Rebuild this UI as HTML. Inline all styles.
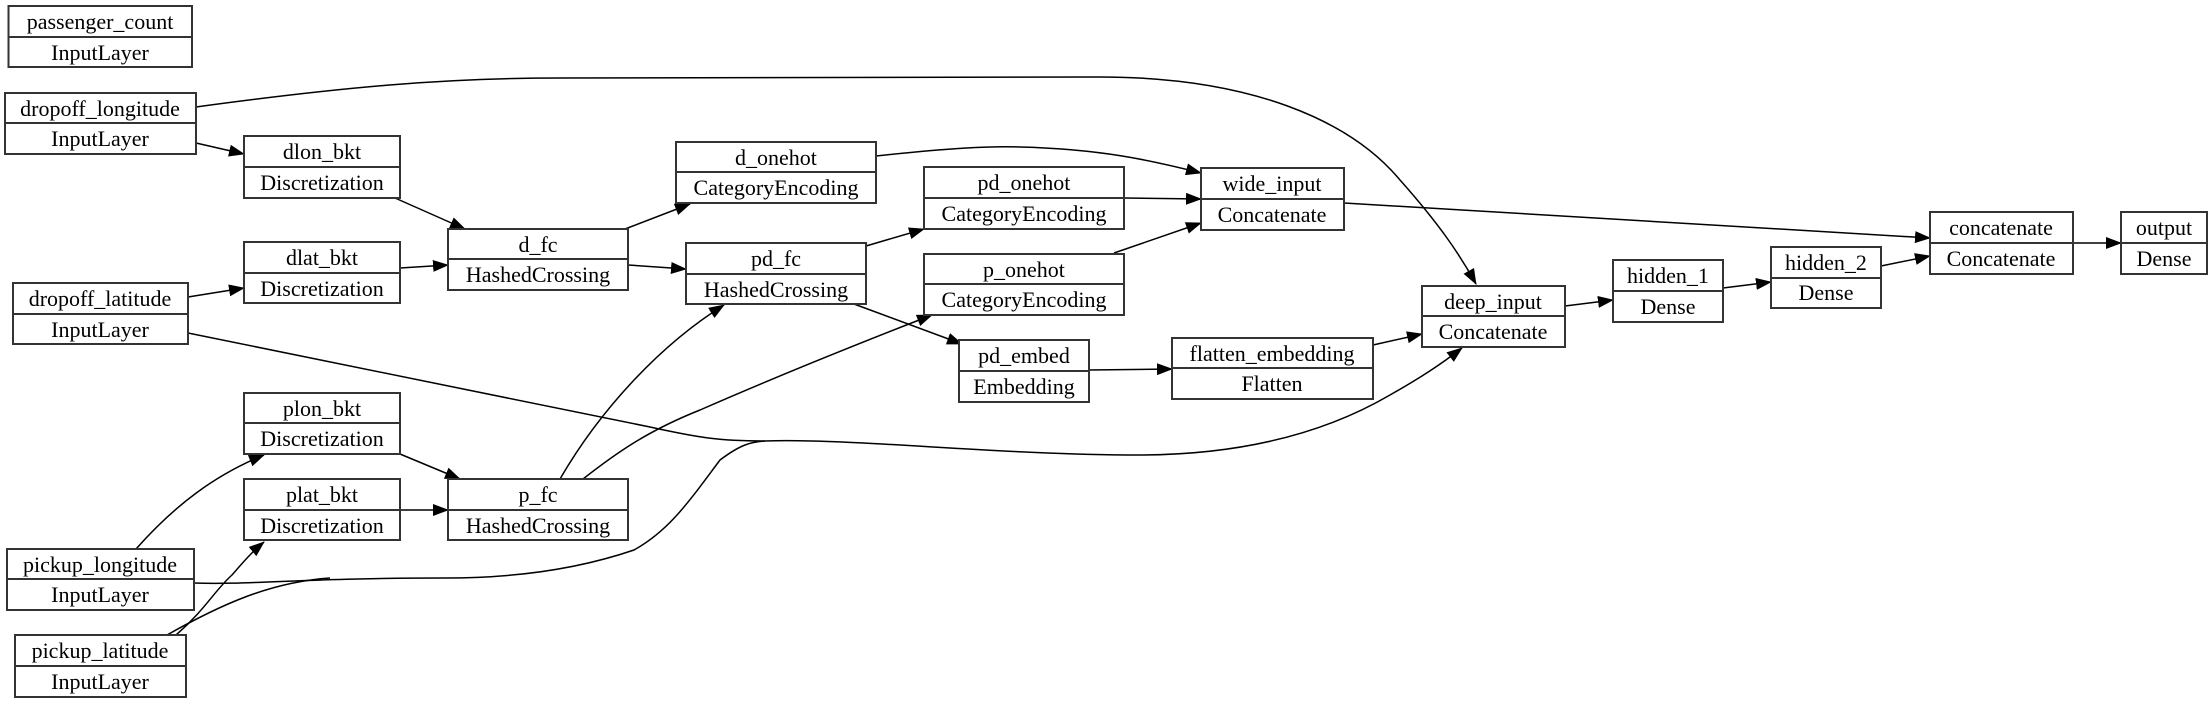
<!DOCTYPE html>
<html><head><meta charset="utf-8"><style>
html,body{margin:0;padding:0;background:#fff;}
svg{display:block;}
text{font-family:"Liberation Serif","DejaVu Serif",serif;font-size:22px;fill:#000;}
.b{fill:#fff;stroke:#333;stroke-width:2;}
.l{stroke:#333;stroke-width:2;}
.e{fill:none;stroke:#000;stroke-width:1.5;}
</style></head><body>
<svg width="2208" height="703" viewBox="0 0 2208 703" xmlns="http://www.w3.org/2000/svg">
<defs>
<marker id="a" markerWidth="16" markerHeight="12" refX="15" refY="6" orient="auto" markerUnits="userSpaceOnUse">
<path d="M0,0 L16,6 L0,12 z" fill="#000"/>
</marker>
</defs>
<g class="edges">
<path class="e" marker-end="url(#a)" d="M196,107 C350,86 450,78 560,78 L1100,77 C1250,77 1350,120 1400,180 C1440,225 1460,255 1476,284"/>
<path class="e" marker-end="url(#a)" d="M196,143 L244,154"/>
<path class="e" marker-end="url(#a)" d="M395,198 L465,229"/>
<path class="e" marker-end="url(#a)" d="M400,268 L448,265"/>
<path class="e" marker-end="url(#a)" d="M188,297 L244,288"/>
<path class="e" marker-end="url(#a)" d="M625,229 L690,204"/>
<path class="e" marker-end="url(#a)" d="M628,265 L686,269"/>
<path class="e" marker-end="url(#a)" d="M876,156 C950,148 990,146 1020,147 C1100,149 1150,160 1201,173"/>
<path class="e" marker-end="url(#a)" d="M1124,198 L1201,199"/>
<path class="e" marker-end="url(#a)" d="M1114,253 L1201,223"/>
<path class="e" marker-end="url(#a)" d="M1344,203 L1930,238"/>
<path class="e" marker-end="url(#a)" d="M866,246 L924,229"/>
<path class="e" marker-end="url(#a)" d="M854,304 L962,344"/>
<path class="e" marker-end="url(#a)" d="M1089,370 L1172,369"/>
<path class="e" marker-end="url(#a)" d="M1373,345 L1422,334"/>
<path class="e" marker-end="url(#a)" d="M1565,306 L1613,300"/>
<path class="e" marker-end="url(#a)" d="M1723,288 L1771,282"/>
<path class="e" marker-end="url(#a)" d="M1881,266 L1930,256"/>
<path class="e" marker-end="url(#a)" d="M2073,243 L2121,243"/>
<path class="e" marker-end="url(#a)" d="M188,333 L650,427 C700,438 720,441 765,441 C850,438 1000,455 1138,455 C1250,455 1330,430 1390,395 C1420,378 1440,365 1462,348"/>
<path class="e" d="M194,583 C250,585 300,578 446,578 C530,578 590,565 634,550 C670,530 690,500 720,460 C740,445 750,442 765,441"/>
<path class="e" d="M167,635 C220,605 270,582 330,578"/>
<path class="e" marker-end="url(#a)" d="M176,635 C205,610 215,590 232,575 C245,560 252,552 264,542"/>
<path class="e" marker-end="url(#a)" d="M136,549 C175,505 215,475 264,455"/>
<path class="e" marker-end="url(#a)" d="M400,454 L460,479"/>
<path class="e" marker-end="url(#a)" d="M400,510 L448,510"/>
<path class="e" marker-end="url(#a)" d="M560,479 C600,410 660,345 724,305"/>
<path class="e" marker-end="url(#a)" d="M583,479 C620,450 650,430 700,410 C780,375 860,343 932,315"/>
</g>
<g class="nodes">
<!-- helper: box x,y,w,h with mid line -->
<rect class="b" x="8.5" y="6" width="183.5" height="61"/><line class="l" x1="8.5" y1="37" x2="192" y2="37"/>
<text x="100" y="29" text-anchor="middle">passenger_count</text><text x="100" y="60" text-anchor="middle">InputLayer</text>

<rect class="b" x="5" y="93" width="191" height="61"/><line class="l" x1="5" y1="123" x2="196" y2="123"/>
<text x="100" y="116" text-anchor="middle">dropoff_longitude</text><text x="100" y="146" text-anchor="middle">InputLayer</text>

<rect class="b" x="244" y="136" width="156" height="62"/><line class="l" x1="244" y1="167" x2="400" y2="167"/>
<text x="322" y="159" text-anchor="middle">dlon_bkt</text><text x="322" y="190" text-anchor="middle">Discretization</text>

<rect class="b" x="244" y="242" width="156" height="61"/><line class="l" x1="244" y1="273" x2="400" y2="273"/>
<text x="322" y="265" text-anchor="middle">dlat_bkt</text><text x="322" y="296" text-anchor="middle">Discretization</text>

<rect class="b" x="13" y="283" width="175" height="61"/><line class="l" x1="13" y1="314" x2="188" y2="314"/>
<text x="100" y="306" text-anchor="middle">dropoff_latitude</text><text x="100" y="337" text-anchor="middle">InputLayer</text>

<rect class="b" x="448" y="229" width="180" height="61"/><line class="l" x1="448" y1="259" x2="628" y2="259"/>
<text x="538" y="252" text-anchor="middle">d_fc</text><text x="538" y="282" text-anchor="middle">HashedCrossing</text>

<rect class="b" x="244" y="393" width="156" height="61"/><line class="l" x1="244" y1="423" x2="400" y2="423"/>
<text x="322" y="416" text-anchor="middle">plon_bkt</text><text x="322" y="446" text-anchor="middle">Discretization</text>

<rect class="b" x="244" y="479" width="156" height="61"/><line class="l" x1="244" y1="510" x2="400" y2="510"/>
<text x="322" y="502" text-anchor="middle">plat_bkt</text><text x="322" y="533" text-anchor="middle">Discretization</text>

<rect class="b" x="448" y="479" width="180" height="61"/><line class="l" x1="448" y1="510" x2="628" y2="510"/>
<text x="538" y="502" text-anchor="middle">p_fc</text><text x="538" y="533" text-anchor="middle">HashedCrossing</text>

<rect class="b" x="7" y="549" width="187" height="61"/><line class="l" x1="7" y1="579" x2="194" y2="579"/>
<text x="100" y="572" text-anchor="middle">pickup_longitude</text><text x="100" y="602" text-anchor="middle">InputLayer</text>

<rect class="b" x="15" y="635" width="171" height="62"/><line class="l" x1="15" y1="666" x2="186" y2="666"/>
<text x="100" y="658" text-anchor="middle">pickup_latitude</text><text x="100" y="689" text-anchor="middle">InputLayer</text>

<rect class="b" x="676" y="142" width="200" height="61"/><line class="l" x1="676" y1="172" x2="876" y2="172"/>
<text x="776" y="165" text-anchor="middle">d_onehot</text><text x="776" y="195" text-anchor="middle">CategoryEncoding</text>

<rect class="b" x="686" y="243" width="180" height="61"/><line class="l" x1="686" y1="274" x2="866" y2="274"/>
<text x="776" y="266" text-anchor="middle">pd_fc</text><text x="776" y="297" text-anchor="middle">HashedCrossing</text>

<rect class="b" x="924" y="167" width="200" height="62"/><line class="l" x1="924" y1="198" x2="1124" y2="198"/>
<text x="1024" y="190" text-anchor="middle">pd_onehot</text><text x="1024" y="221" text-anchor="middle">CategoryEncoding</text>

<rect class="b" x="924" y="254" width="200" height="61"/><line class="l" x1="924" y1="284" x2="1124" y2="284"/>
<text x="1024" y="277" text-anchor="middle">p_onehot</text><text x="1024" y="307" text-anchor="middle">CategoryEncoding</text>

<rect class="b" x="1201" y="168" width="143" height="62"/><line class="l" x1="1201" y1="199" x2="1344" y2="199"/>
<text x="1272" y="191" text-anchor="middle">wide_input</text><text x="1272" y="222" text-anchor="middle">Concatenate</text>

<rect class="b" x="959" y="340" width="130" height="62"/><line class="l" x1="959" y1="371" x2="1089" y2="371"/>
<text x="1024" y="363" text-anchor="middle">pd_embed</text><text x="1024" y="394" text-anchor="middle">Embedding</text>

<rect class="b" x="1172" y="338" width="201" height="61"/><line class="l" x1="1172" y1="368" x2="1373" y2="368"/>
<text x="1272" y="361" text-anchor="middle">flatten_embedding</text><text x="1272" y="391" text-anchor="middle">Flatten</text>

<rect class="b" x="1422" y="286" width="143" height="61"/><line class="l" x1="1422" y1="316" x2="1565" y2="316"/>
<text x="1493" y="309" text-anchor="middle">deep_input</text><text x="1493" y="339" text-anchor="middle">Concatenate</text>

<rect class="b" x="1613" y="260" width="110" height="62"/><line class="l" x1="1613" y1="291" x2="1723" y2="291"/>
<text x="1668" y="283" text-anchor="middle">hidden_1</text><text x="1668" y="314" text-anchor="middle">Dense</text>

<rect class="b" x="1771" y="247" width="110" height="61"/><line class="l" x1="1771" y1="278" x2="1881" y2="278"/>
<text x="1826" y="270" text-anchor="middle">hidden_2</text><text x="1826" y="300" text-anchor="middle">Dense</text>

<rect class="b" x="1930" y="212" width="143" height="62"/><line class="l" x1="1930" y1="243" x2="2073" y2="243"/>
<text x="2001" y="235" text-anchor="middle">concatenate</text><text x="2001" y="266" text-anchor="middle">Concatenate</text>

<rect class="b" x="2121" y="212" width="86" height="62"/><line class="l" x1="2121" y1="243" x2="2207" y2="243"/>
<text x="2164" y="235" text-anchor="middle">output</text><text x="2164" y="266" text-anchor="middle">Dense</text>
</g>
</svg>
</body></html>
